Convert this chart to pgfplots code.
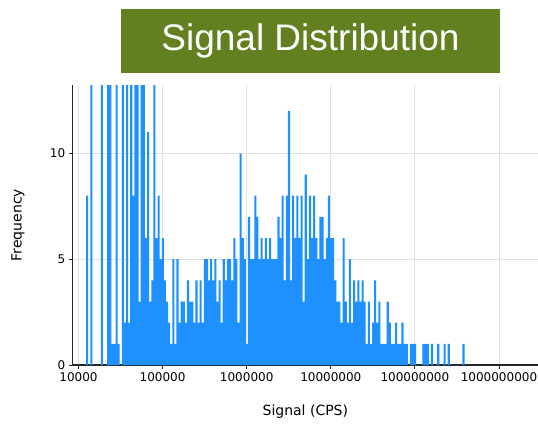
\documentclass[border=0pt]{standalone}
\usepackage{fontspec}
\setmainfont{Liberation Sans}
\newfontfamily\labelfont{DejaVu Sans}
\usepackage{pgfplots}
\pgfplotsset{compat=1.18}
\usepackage{pgfplotstable}

\definecolor{barblue}{RGB}{30,144,255}
\definecolor{titlegreen}{RGB}{98,128,32}
\definecolor{gridgray}{RGB}{225,225,225}

% histogram bins, 0.025 decade wide: lg = log10 of left bin edge, n = count
% (counts of 20 are off the scale in the original)
\pgfplotstableread{
lg n
4.090 8
4.115 0
4.140 20
4.165 0
4.190 0
4.215 0
4.240 0
4.265 20
4.290 0
4.315 0
4.340 20
4.365 20
4.390 1
4.415 1
4.440 20
4.465 1
4.490 0
4.515 20
4.540 2
4.565 20
4.590 2
4.615 20
4.640 8
4.665 20
4.690 20
4.715 3
4.740 20
4.765 20
4.790 6
4.815 11
4.840 3
4.865 4
4.890 20
4.915 6
4.940 8
4.965 5
4.990 6
5.015 4
5.040 3
5.065 2
5.090 1
5.115 5
5.140 1
5.165 5
5.190 2
5.215 3
5.240 3
5.265 2
5.290 4
5.315 3
5.340 3
5.365 2
5.390 4
5.415 2
5.440 4
5.465 2
5.490 5
5.515 5
5.540 4
5.565 5
5.590 4
5.615 5
5.640 3
5.665 4
5.690 2
5.715 5
5.740 4
5.765 5
5.790 5
5.815 4
5.840 6
5.865 5
5.890 2
5.915 10
5.940 6
5.965 5
5.990 1
6.015 7
6.040 5
6.065 5
6.090 8
6.115 7
6.140 5
6.165 6
6.190 5
6.215 6
6.240 5
6.265 6
6.290 5
6.315 5
6.340 5
6.365 7
6.390 6
6.415 8
6.440 4
6.465 8
6.490 12
6.515 4
6.540 8
6.565 6
6.590 8
6.615 6
6.640 8
6.665 3
6.690 9
6.715 5
6.740 8
6.765 6
6.790 8
6.815 6
6.840 5
6.865 7
6.890 7
6.915 5
6.940 6
6.965 8
6.990 6
7.015 6
7.040 4
7.065 3
7.090 3
7.115 2
7.140 6
7.165 3
7.190 2
7.215 5
7.240 2
7.265 4
7.290 3
7.315 4
7.340 3
7.365 4
7.390 3
7.415 1
7.440 3
7.465 1
7.490 2
7.515 4
7.540 2
7.565 3
7.590 1
7.615 1
7.640 1
7.665 3
7.690 2
7.715 1
7.740 1
7.765 2
7.790 1
7.815 1
7.840 2
7.865 1
7.890 1
7.915 0
7.940 1
7.965 1
7.990 1
8.015 0
8.040 0
8.065 0
8.090 1
8.115 1
8.140 1
8.165 0
8.190 1
8.215 0
8.240 0
8.265 1
8.290 0
8.315 0
8.340 1
8.365 0
8.390 1
8.415 0
8.440 0
8.465 0
8.490 0
8.515 0
8.540 0
8.565 1
8.590 0
}\histdata

\begin{document}
\begin{tikzpicture}
\path[use as bounding box] (0pt,0pt) rectangle (538pt,426pt);
\node[fill=titlegreen, text=white, minimum width=379pt, minimum height=64pt,
      inner sep=0pt, font=\fontsize{37}{40}\selectfont] at (310.5pt,385pt) {Signal Distribution};
\begin{axis}[
  at={(72.7pt,61pt)}, anchor=south west,
  scale only axis, width=465.3pt, height=280pt,
  xmin=3.931, xmax=9.4637, ymin=0, ymax=13.23,
  xtick={4,5,6,7,8,9},
  xticklabels={10000,100000,1000000,10000000,100000000,1000000000},
  ytick={0,5,10},
  axis x line*=bottom, axis y line*=left,
  every non boxed x axis/.append style={x axis line style=-},
  every non boxed y axis/.append style={y axis line style=-},
  axis line style={line width=1.2pt, black!85},
  tick align=outside, major tick length=4pt,
  tick style={line width=1pt, black!85},
  grid=major, major grid style={gridgray, line width=1pt},
  tick label style={font=\labelfont\fontsize{12}{14}\selectfont},
  /pgf/number format/assume math mode=true,
  label style={font=\labelfont\fontsize{14}{16}\selectfont},
  xlabel={Signal (CPS)}, ylabel={Frequency},
  xlabel style={at={(axis description cs:0.5,-0.165)}, anchor=center},
  ylabel style={at={(axis description cs:-0.1176,0.5)}, anchor=center},
]
\addplot[ybar interval, fill=barblue, draw=none] table[x=lg, y=n] {\histdata};
\end{axis}
\end{tikzpicture}
\end{document}
